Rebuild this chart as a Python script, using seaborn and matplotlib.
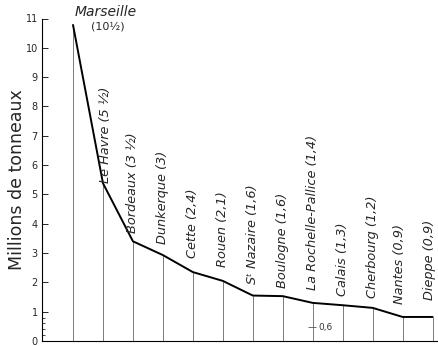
import matplotlib
matplotlib.use("Agg")
import matplotlib.pyplot as plt
import seaborn as sns
import numpy as np
import pandas as pd
from matplotlib.ticker import FixedLocator

ports = ["Marseille", "Le Havre", "Bordeaux", "Dunkerque", "Cette", "Rouen",
         "Sᵗ Nazaire", "Boulogne", "La Rochelle-Pallice", "Calais",
         "Cherbourg", "Nantes", "Dieppe"]
tonnage = [10.78, 5.38, 3.4, 2.93, 2.35, 2.05, 1.55, 1.53, 1.3, 1.22, 1.13, 0.82, 0.82]
value_labels = ["(10½)", "(5 ½)", "(3 ½)", "(3)", "(2,4)", "(2,1)", "(1,6)", "(1,6)",
                "(1,4)", "(1,3)", "(1,2)", "(0,9)", "(0,9)"]
yticks = list(range(0, 12))
minor_yticks = [0.2, 0.4, 0.6, 0.8]

# label placement (pixels above / right of each point) -- layout only
label_dy_px = [0, 0, 8, 11, 14, 14, 12, 8, 13, 9, 10, 13, 17]
label_dx_px = [0, 3, 0, 0, 0, 0, 0, 0, 0, 0, 0, -3, -3]

df = pd.DataFrame({"pos": np.arange(len(ports)), "tonnage": tonnage, "port": ports})

sns.set_style("white")
plt.rcParams["font.family"] = ["DejaVu Sans"]

fig = plt.figure(figsize=(4.38, 3.46), dpi=100)
ax = fig.add_axes([42 / 438, 5 / 346, 1 - 42 / 438, 1 - 5 / 346 - 18.5 / 346])

PX = 72 / 100.0  # points per pixel

# vertical guide lines
ax.vlines(df["pos"], 0, df["tonnage"], color="#666666", lw=0.6, zorder=1)

sns.lineplot(data=df, x="pos", y="tonnage", color="black", lw=1.4, ax=ax,
             zorder=3, sort=False)

ax.set_xlim(-1.035, 12.18)
ax.set_ylim(0, 11)

ax.set_yticks(yticks)
ax.set_yticklabels([str(t) for t in yticks], fontsize=7)
ax.yaxis.set_minor_locator(FixedLocator(minor_yticks))
ax.tick_params(axis="y", which="major", direction="in", length=4, width=0.7, pad=3,
               left=True)
ax.tick_params(axis="y", which="minor", direction="in", length=2.5, width=0.6, left=True)
ax.set_xticks([])
ax.set_xlabel("")
ax.set_ylabel("Millions de tonneaux", fontsize=12.5)
ax.yaxis.label.set_va("center")
ax.yaxis.set_label_coords(-(42 - 17) / 396, 0.5)

for s in ["top", "right"]:
    ax.spines[s].set_visible(False)
for s in ["left", "bottom"]:
    ax.spines[s].set_color("black")
    ax.spines[s].set_linewidth(0.8)

# Marseille label (horizontal)
ax.annotate(ports[0], xy=(0, tonnage[0]), xytext=(33 * PX, 13 * PX),
            textcoords="offset points", ha="center", va="center", fontsize=10,
            style="italic", annotation_clip=False)
ax.annotate(value_labels[0], xy=(0, tonnage[0]), xytext=(35 * PX, -2 * PX),
            textcoords="offset points", ha="center", va="center", fontsize=8,
            annotation_clip=False)

# rotated labels
for i in range(1, len(ports)):
    ax.annotate(f"{ports[i]} {value_labels[i]}", xy=(i, tonnage[i]),
                xytext=(label_dx_px[i] * PX, label_dy_px[i] * PX),
                textcoords="offset points",
                rotation=90, ha="center", va="bottom", fontsize=9.3,
                style="italic", annotation_clip=False)

# small annotation near La Rochelle
ax.hlines(0.47, 7.85, 8.12, color="#555555", lw=0.6)
ax.text(8.2, 0.47, "0,6", fontsize=6.5, va="center", ha="left", color="#333333")

fig.savefig("out.png", dpi=100)
